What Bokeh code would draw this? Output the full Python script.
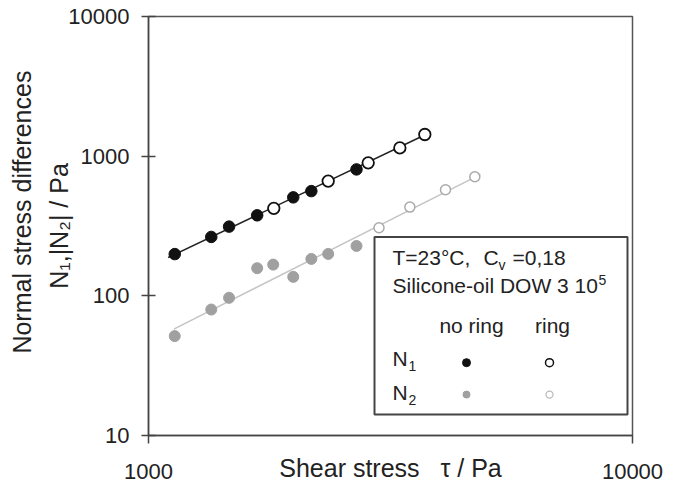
import math
from bokeh.plotting import figure
from bokeh.models import FixedTicker, PrintfTickFormatter, Label, BoxAnnotation
from bokeh.embed import file_html
from bokeh.resources import INLINE

# ---- data ----
n1_noring_x = [1133, 1348, 1467, 1677, 1991, 2170, 2690]
n1_noring_y = [199, 264, 313, 377, 507, 562, 804]
n1_ring_x = [1815, 2351, 2844, 3306, 3723]
n1_ring_y = [423, 663, 896, 1146, 1429]
n2_noring_x = [1133, 1348, 1467, 1677, 1810, 1991, 2170, 2351, 2690]
n2_noring_y = [51.5, 79.8, 96.8, 157.7, 167.3, 136.7, 183.8, 199.5, 227.6]
n2_ring_x = [2994, 3467, 4108, 4723]
n2_ring_y = [307.5, 432, 575, 712]
n1_fit_x = [1098, 3825]
n1_fit_y = [188, 1484]
n2_fit_x = [1128, 4853]
n2_fit_y = [57.8, 740]
x_ticks = [1000, 10000]
y_ticks = [10, 100, 1000, 10000]

# ---- layout constants ----
W, H = 683, 490
FL, FR, FT, FB = 148, 632, 16, 435
FONT = "Liberation Sans"
TXT = "#222222"
NB = "\u00a0"


def sx(px):
    return px - FL


def sy(py):
    return FB - py


def dx(px):
    return 1000 * 10 ** ((px - FL) / 484.0)


def dy(py):
    return 10 * 10 ** ((FB - py) / 140.0)


p = figure(width=W, height=H, x_axis_type="log", y_axis_type="log",
           x_range=(1000, 10000), y_range=(10, 10000),
           output_backend="svg", toolbar_location=None,
           min_border_left=FL, min_border_right=W - FR,
           min_border_top=FT, min_border_bottom=H - FB)
p.background_fill_color = "white"
p.border_fill_color = "white"
p.grid.visible = False
p.outline_line_color = "#555555"
p.outline_line_width = 1.5

for ax in (p.xaxis[0], p.yaxis[0]):
    ax.axis_line_color = "#444444"
    ax.axis_line_width = 1.5
    ax.major_tick_line_color = "#444444"
    ax.major_tick_line_width = 1.5
    ax.minor_tick_line_color = None
    ax.major_label_text_font = FONT
    ax.major_label_text_font_size = "22px"
    ax.major_label_text_color = TXT
    ax.formatter = PrintfTickFormatter(format="%d")
    ax.axis_label_text_font = FONT
    ax.axis_label_text_font_size = "25px"
    ax.axis_label_text_font_style = "normal"
    ax.axis_label_text_color = TXT

p.xaxis.ticker = FixedTicker(ticks=x_ticks)
p.yaxis.ticker = FixedTicker(ticks=y_ticks)
p.xaxis.major_tick_in = 0
p.xaxis.major_tick_out = 8
p.xaxis.major_label_standoff = 20
p.yaxis.major_tick_in = 7
p.yaxis.major_tick_out = 7
p.yaxis.major_label_standoff = 12

p.xaxis.axis_label = "Shear stress" + NB * 3 + "\u03c4 / Pa"
p.xaxis.axis_label_standoff = -28
p.yaxis.axis_label = NB * 4 + "Normal stress differences\nN\u2081,|N\u2082| / Pa"
p.yaxis.axis_label_text_line_height = 1.35
p.yaxis.axis_label_standoff = -8

# fit lines
p.line(n1_fit_x, n1_fit_y, line_color="#222222", line_width=1.5)
p.line(n2_fit_x, n2_fit_y, line_color="#c4c4c4", line_width=1.5)

# markers
p.scatter(n2_noring_x, n2_noring_y, size=11, fill_color="#a0a0a0", line_color="#a0a0a0")
p.scatter(n2_ring_x, n2_ring_y, size=10, fill_color="white", line_color="#aaaaaa", line_width=1.5)
p.scatter(n1_noring_x, n1_noring_y, size=11.5, fill_color="#111111", line_color="#111111")
p.scatter(n1_ring_x, n1_ring_y, size=11.5, fill_color="white", line_color="#111111", line_width=1.8)

# legend box
box = BoxAnnotation(left=dx(374), right=dx(627), top=dy(236), bottom=dy(414),
                    fill_color="white", fill_alpha=1.0,
                    line_color="#444444", line_alpha=1.0, line_width=2,
                    level="underlay")
p.add_layout(box)


def lab(text, px, py, size=21, align="left", angle=0.0, font=FONT):
    p.add_layout(Label(x=sx(px), y=sy(py), x_units="screen", y_units="screen",
                       text=text, text_font=font, text_font_size=f"{size}px",
                       text_color=TXT, text_align=align, text_baseline="middle",
                       angle=angle))


lab("T=23°C,", 392, 257)
lab("C", 483, 257)
lab("v", 498, 264, size=14)
lab("=0,18", 512, 257)
lab("Silicone-oil DOW 3 10", 392, 285)
lab("5", 598, 279, size=14)
lab("no ring", 471, 325, align="center")
lab("ring", 552, 325, align="center")
lab("N", 392, 358)
lab("1", 408, 365, size=14)
lab("N", 392, 392)
lab("2", 408, 399, size=14)

# legend markers
p.scatter([dx(466)], [dy(362)], size=8, fill_color="#111111", line_color="#111111")
p.scatter([dx(549)], [dy(362)], size=8, fill_color="white", line_color="#111111", line_width=1.5)
p.scatter([dx(466)], [dy(394)], size=7, fill_color="#a0a0a0", line_color="#a0a0a0")
p.scatter([dx(549)], [dy(394)], size=7, fill_color="white", line_color="#bbbbbb", line_width=1.3)

open("out.html", "w").write(file_html(p, INLINE))
